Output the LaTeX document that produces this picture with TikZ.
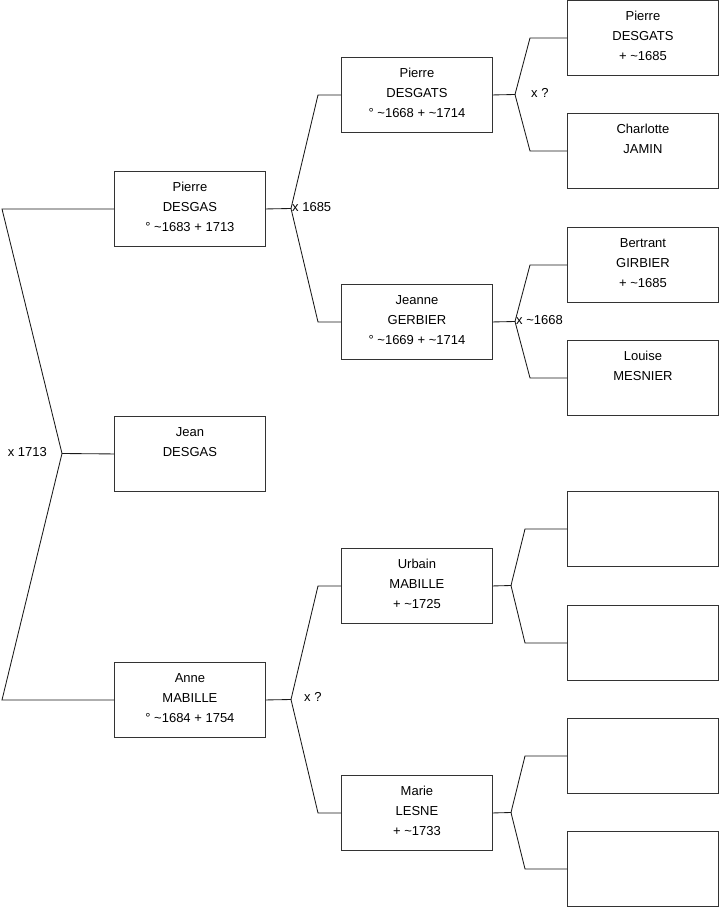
\documentclass[tikz,border=0pt]{standalone}
\usepackage{fontspec}
\setmainfont{Liberation Sans}
\usetikzlibrary{positioning}
\newcommand{\ca}{\textasciitilde}
\newcommand{\who}[1]{\parbox[t][75pt][t]{151pt}{\centering\rule{0pt}{20pt}#1}}
\tikzset{
  person/.style={draw=black!80, line width=0.9pt, anchor=north west, inner sep=0pt, minimum width=151pt, minimum height=75pt, font=\fontsize{13}{20}\selectfont},
  link/.style={draw=black!90, line width=0.85pt},
  wedding/.style={inner sep=0pt, font=\fontsize{13}{16}\selectfont}
}
\begin{document}
\begin{tikzpicture}[x=1pt, y=-1pt]
\useasboundingbox (0,0) rectangle (719,908);
% generation 1
\node[person] (pierre) at (114,171) {\who{Pierre\\DESGAS\\° \ca1683 + 1713}};
\node[person] (jean) at (114,416) {\who{Jean\\DESGAS}};
\node[person] (anne) at (114,662) {\who{Anne\\MABILLE\\° \ca1684 + 1754}};
% generation 2
\node[person] (pdesgats) at (341,57) {\who{Pierre\\DESGATS\\° \ca1668 + \ca1714}};
\node[person] (jeanne) at (341,284) {\who{Jeanne\\GERBIER\\° \ca1669 + \ca1714}};
\node[person] (urbain) at (341,548) {\who{Urbain\\MABILLE\\ + \ca1725}};
\node[person] (marie) at (341,775) {\who{Marie\\LESNE\\ + \ca1733}};
% generation 3
\node[person] (pere) at (567,0) {\who{Pierre\\DESGATS\\ + \ca1685}};
\node[person] (charlotte) at (567,113) {\who{Charlotte\\JAMIN}};
\node[person] (bertrant) at (567,227) {\who{Bertrant\\GIRBIER\\ + \ca1685}};
\node[person] (louise) at (567,340) {\who{Louise\\MESNIER}};
\node[person] (ua) at (567,491) {};
\node[person] (ub) at (567,605) {};
\node[person] (ma) at (567,718) {};
\node[person] (mb) at (567,831) {};
% marriages
\coordinate (rim) at (2,0);
\coordinate (m1) at (62,453.5);
\coordinate (m2) at (291,208.5);
\coordinate (m3) at (291,699.5);
\coordinate (m4) at (515,94.5);
\coordinate (m5) at (515,321.5);
\coordinate (m6) at (511,585.5);
\coordinate (m7) at (511,812.5);
\draw[link] (pierre.west) -- (pierre.west -| rim) -- (m1) -- (jean.west);
\draw[link] (m1) -- (anne.west -| rim) -- (anne.west);
\draw[link] (pierre.east) -- (m2) -- ([xshift=-23pt]pdesgats.west) -- (pdesgats.west);
\draw[link] (m2) -- ([xshift=-23pt]jeanne.west) -- (jeanne.west);
\draw[link] (anne.east) -- (m3) -- ([xshift=-23pt]urbain.west) -- (urbain.west);
\draw[link] (m3) -- ([xshift=-23pt]marie.west) -- (marie.west);
\draw[link] (pdesgats.east) -- (m4) -- ([xshift=-37pt]pere.west) -- (pere.west);
\draw[link] (m4) -- ([xshift=-37pt]charlotte.west) -- (charlotte.west);
\draw[link] (jeanne.east) -- (m5) -- ([xshift=-37pt]bertrant.west) -- (bertrant.west);
\draw[link] (m5) -- ([xshift=-37pt]louise.west) -- (louise.west);
\draw[link] (urbain.east) -- (m6) -- ([xshift=-42pt]ua.west) -- (ua.west);
\draw[link] (m6) -- ([xshift=-42pt]ub.west) -- (ub.west);
\draw[link] (marie.east) -- (m7) -- ([xshift=-42pt]ma.west) -- (ma.west);
\draw[link] (m7) -- ([xshift=-42pt]mb.west) -- (mb.west);
\node[wedding, anchor=east] (w1) at (47,452) {x 1713};
\node[wedding, anchor=west] (w2) at (292,207) {x 1685};
\node[wedding, anchor=west] (w3) at (304,697) {x ?};
\node[wedding, anchor=west] (w4) at (531,93) {x ?};
\node[wedding, anchor=west] (w5) at (516,320) {x \ca1668};
\end{tikzpicture}
\end{document}
